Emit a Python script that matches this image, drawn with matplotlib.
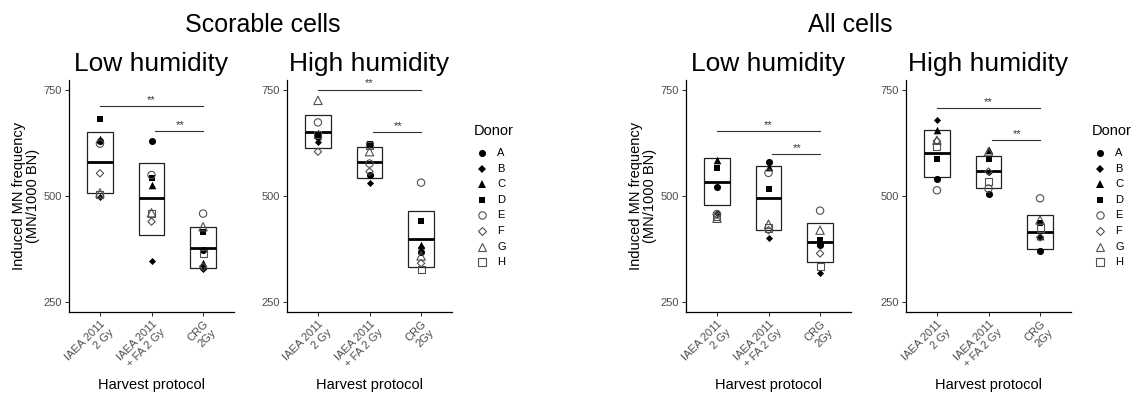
import numpy as np
import matplotlib
matplotlib.use("Agg")
import matplotlib.pyplot as plt
from matplotlib.lines import Line2D

plt.rcParams['font.family'] = ['Liberation Sans', 'DejaVu Sans']

protocols = ["IAEA 2011\n2 Gy", "IAEA 2011\n+ FA 2 Gy", "CRG\n2Gy"]
donors = ["A", "B", "C", "D", "E", "F", "G", "H"]

# induced MN per 1000 BN, one row per donor, one column per protocol
scorable_low = [
    [630, 630, 373],
    [499, 348, 328],
    [634, 526, 342],
    [681, 542, 415],
    [624, 550, 459],
    [554, 440, 334],
    [508, 461, 428],
    [505, 460, 364],
]
scorable_high = [
    [640, 551, 369],
    [627, 532, 381],
    [648, 624, 386],
    [644, 624, 441],
    [674, 577, 532],
    [605, 558, 342],
    [726, 605, 359],
    [645, 620, 327],
]
all_low = [
    [522, 580, 385],
    [461, 402, 318],
    [585, 569, 392],
    [567, 516, 397],
    [458, 555, 466],
    [456, 420, 365],
    [448, 434, 420],
    [452, 425, 335],
]
all_high = [
    [540, 505, 372],
    [679, 558, 403],
    [656, 609, 406],
    [587, 587, 436],
    [514, 518, 495],
    [630, 558, 403],
    [632, 605, 444],
    [618, 534, 425],
]

# crossbars: centre, lower, upper per protocol
bars_scorable_low = [(580, 508, 651), (495, 408, 579), (379, 330, 428)]
bars_scorable_high = [(652, 613, 691), (581, 544, 617), (399, 333, 466)]
bars_all_low = [(534, 479, 589), (495, 420, 571), (391, 346, 436)]
bars_all_high = [(602, 546, 657), (559, 520, 595), (416, 375, 456)]

# heights of the two significance brackets
sig_scorable_low = (712, 654)
sig_scorable_high = (751, 651)
sig_all_low = (654, 599)
sig_all_high = (708, 632)

# marker style per donor: (marker, filled, size)
donor_marks = [
    ("o", True, 26),
    ("D", True, 13),
    ("^", True, 30),
    ("s", True, 24),
    ("o", False, 28),
    ("D", False, 14),
    ("^", False, 36),
    ("s", False, 26),
]

W, H = 1138, 394
fig = plt.figure(figsize=(W / 100, H / 100), dpi=100)

TICK_GREY = "#4d4d4d"
OPEN_EDGE = "#505050"


def panel(left_px, values, bars, sig, title, ylabel):
    ax = fig.add_axes([left_px / W, (H - 312) / H, 165 / W, 232 / H])
    x = np.arange(1, 4)
    for xi, (mid, lo, hi) in zip(x, bars):
        ax.add_patch(plt.Rectangle((xi - 0.25, lo), 0.5, hi - lo, fill=False,
                                   edgecolor="#222222", linewidth=0.9, zorder=2))
        ax.plot([xi - 0.25, xi + 0.25], [mid, mid], color="black", linewidth=2.0,
                solid_capstyle="butt", zorder=3)
    for row, (m, filled, s) in zip(values, donor_marks):
        if filled:
            ax.scatter(x, row, marker=m, s=s, c="black", linewidths=0, zorder=4)
        else:
            ax.scatter(x, row, marker=m, s=s, facecolors="none",
                       edgecolors=OPEN_EDGE, linewidths=0.8, zorder=4)
    # significance brackets
    y1, y2 = sig
    ax.plot([1, 3], [y1, y1], color="#333333", linewidth=0.8)
    ax.text(2, y1 + 3, "**", ha="center", va="bottom", fontsize=8, color="#333333")
    ax.plot([2.07, 3], [y2, y2], color="#333333", linewidth=0.8)
    ax.text(2.55, y2 + 3, "**", ha="center", va="bottom", fontsize=8, color="#333333")

    ax.set_xlim(0.4, 3.6)
    ax.set_ylim(227, 774)
    ax.set_yticks([250, 500, 750])
    ax.set_xticks(x)
    ax.set_xticklabels(protocols, rotation=45, ha="right", rotation_mode="anchor",
                       multialignment="right", fontsize=8, color=TICK_GREY)
    ax.tick_params(axis="y", labelsize=8, labelcolor=TICK_GREY, length=3, width=0.6, pad=2)
    ax.tick_params(axis="x", length=3, width=0.6, pad=2)
    for side in ("top", "right"):
        ax.spines[side].set_visible(False)
    for side in ("left", "bottom"):
        ax.spines[side].set_linewidth(0.9)
    ax.set_xlabel("Harvest protocol", fontsize=10.5)
    ax.xaxis.set_label_coords(0.5, -0.285)
    cx = (left_px + 82.5) / W
    fig.text(cx, 1 - 71 / H, title, ha="center", va="baseline", fontsize=19)
    if ylabel:
        ax.set_ylabel("Induced MN frequency\n(MN/1000 BN)", fontsize=10.5,
                      linespacing=1.0)
        ax.yaxis.set_label_coords(-0.176, 0.5)
    return ax


def donor_legend(left_px):
    fig.text(left_px / W, 1 - 131 / H, "Donor", ha="left", va="center", fontsize=10.5)
    for i, (name, (m, filled, s)) in enumerate(zip(donors, donor_marks)):
        y = 1 - (153 + i * 15.6) / H
        if filled:
            key = Line2D([(left_px + 8) / W], [y], transform=fig.transFigure,
                         linestyle="none", marker=m, markersize=np.sqrt(s),
                         markerfacecolor="black", markeredgewidth=0)
        else:
            key = Line2D([(left_px + 8) / W], [y], transform=fig.transFigure,
                         linestyle="none", marker=m, markersize=np.sqrt(s),
                         markerfacecolor="none", markeredgecolor=OPEN_EDGE,
                         markeredgewidth=0.8)
        fig.add_artist(key)
        fig.text((left_px + 23) / W, y, name, ha="left", va="center", fontsize=8)


panel(69, scorable_low, bars_scorable_low, sig_scorable_low, "Low humidity", True)
panel(287, scorable_high, bars_scorable_high, sig_scorable_high, "High humidity", False)
panel(686, all_low, bars_all_low, sig_all_low, "Low humidity", True)
panel(906, all_high, bars_all_high, sig_all_high, "High humidity", False)

fig.text(263 / W, 1 - 32 / H, "Scorable cells", ha="center", va="baseline", fontsize=18)
fig.text(850 / W, 1 - 32 / H, "All cells", ha="center", va="baseline", fontsize=18)

donor_legend(474)
donor_legend(1092)

fig.savefig("out.png", dpi=100)
